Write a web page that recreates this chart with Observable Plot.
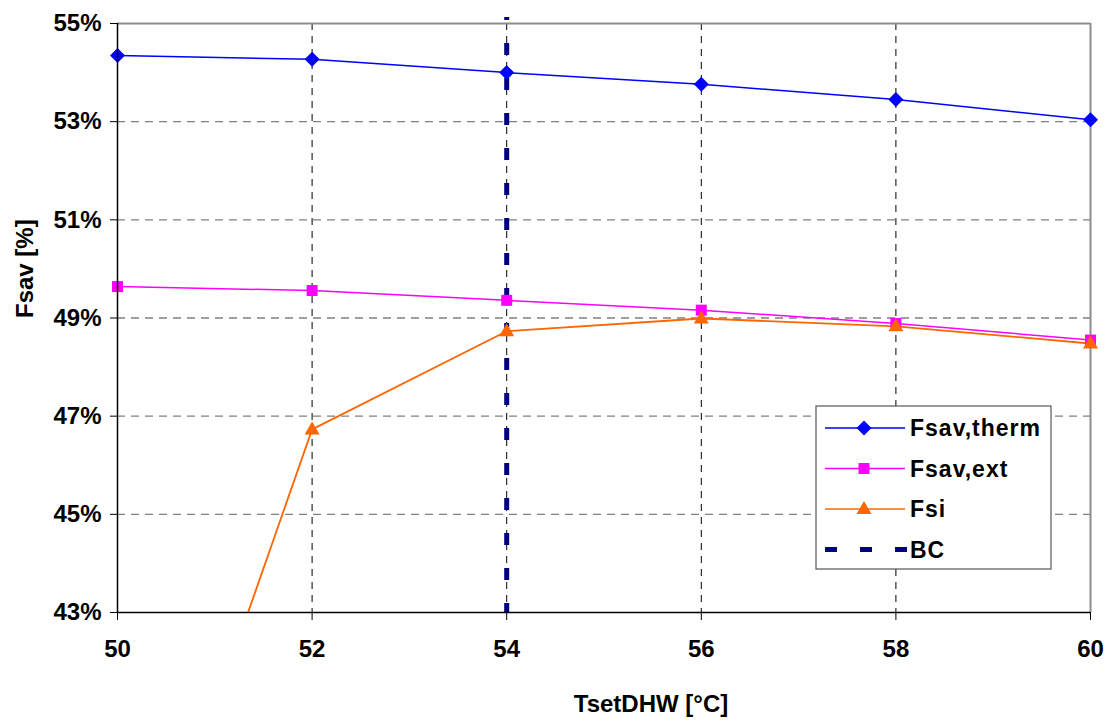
<!DOCTYPE html>
<html>
<head>
<meta charset="utf-8">
<script src="https://cdn.jsdelivr.net/npm/d3@7"></script>
<script src="https://cdn.jsdelivr.net/npm/@observablehq/plot@0.6"></script>
<style>
  html, body { margin: 0; padding: 0; background: #fff; }
  #chart { width: 1109px; height: 722px; }
</style>
</head>
<body>
<div id="chart"></div>
<script>
// ---- data ----
const temps = [50, 52, 54, 56, 58, 60];
const fsavTherm = [54.35, 54.27, 54.0, 53.76, 53.45, 53.04];
const fsavExt = [49.64, 49.56, 49.36, 49.16, 48.89, 48.55];
const fsi = [35.4, 46.73, 48.73, 48.99, 48.83, 48.48];
const bcTemp = [54];
const seriesNames = ["Fsav,therm", "Fsav,ext", "Fsi", "BC"];
const xTicks = [50, 52, 54, 56, 58, 60];
const yTicks = [43, 45, 47, 49, 51, 53, 55];

// ---- styles ----
const colors = {"Fsav,therm": "#0000FF", "Fsav,ext": "#FF00FF", "Fsi": "#FF6600", "BC": "#000080"};
const diamondSym = {draw(ctx) { const s = 7.5; ctx.moveTo(0, -s); ctx.lineTo(s, 0); ctx.lineTo(0, s); ctx.lineTo(-s, 0); ctx.closePath(); }};
const squareSym = {draw(ctx) { const s = 5.5; ctx.rect(-s, -s, 2 * s, 2 * s); }};
const triSym = {draw(ctx) { ctx.moveTo(0, -8); ctx.lineTo(7.5, 5); ctx.lineTo(-7.5, 5); ctx.closePath(); }};
const symbols = {"Fsav,therm": diamondSym, "Fsav,ext": squareSym, "Fsi": triSym};

const mk = (vals) => temps.map((t, i) => ({t, v: vals[i]}));
const dTherm = mk(fsavTherm), dExt = mk(fsavExt), dFsi = mk(fsi);

const font = "'Liberation Sans', Arial, sans-serif";

const chart = Plot.plot({
  width: 1109,
  height: 722,
  marginLeft: 117,
  marginRight: 19,
  marginTop: 23,
  marginBottom: 110,
  style: {fontFamily: font, fontWeight: "bold", fontSize: "24px", color: "#000", background: "#fff"},
  x: {domain: [50, 60], label: null},
  y: {domain: [43, 55], label: null},
  marks: [
    // grid
    Plot.ruleY(yTicks.filter(v => v > 43 && v < 55), {stroke: "#808080", strokeWidth: 1.3, strokeDasharray: "8,6"}),
    Plot.ruleX(xTicks.filter(v => v > 50 && v < 60), {stroke: "#000", strokeWidth: 1, strokeDasharray: "7,6"}),
    Plot.ruleY([55], {stroke: "#8c8c8c", strokeWidth: 2}),
    Plot.ruleX([60], {stroke: "#8c8c8c", strokeWidth: 2}),
    // BC line
    Plot.ruleX(bcTemp, {y1: 55.12, y2: 43, stroke: colors.BC, strokeWidth: 5, strokeDasharray: "12,23", strokeDashoffset: 9}),
    // series
    Plot.line(dTherm, {x: "t", y: "v", stroke: colors["Fsav,therm"], strokeWidth: 1.5}),
    Plot.line(dExt, {x: "t", y: "v", stroke: colors["Fsav,ext"], strokeWidth: 1.5}),
    Plot.line(dFsi, {x: "t", y: "v", stroke: colors["Fsi"], strokeWidth: 1.8, clip: true}),
    Plot.dot(dTherm, {x: "t", y: "v", symbol: () => symbols["Fsav,therm"], fill: colors["Fsav,therm"], stroke: "none"}),
    Plot.dot(dExt, {x: "t", y: "v", symbol: () => symbols["Fsav,ext"], fill: colors["Fsav,ext"], stroke: "none"}),
    Plot.dot(dFsi.filter(d => d.v >= 43), {x: "t", y: "v", symbol: () => symbols["Fsi"], fill: colors["Fsi"], stroke: "none"}),
    // axes lines
    Plot.ruleX([50], {stroke: "#000", strokeWidth: 1.5}),
    Plot.ruleY([43], {stroke: "#000", strokeWidth: 1.5}),
    Plot.axisX({ticks: xTicks, tickFormat: d => String(d), tickSize: 8, tickPadding: 19, label: null, fontSize: 24, fontWeight: "bold"}),
    Plot.axisY({ticks: yTicks, tickFormat: d => d + "%", tickSize: 7, tickPadding: 9, label: null, fontSize: 24, fontWeight: "bold"}),
    // axis titles
    Plot.text(["TsetDHW [°C]"], {frameAnchor: "bottom", dx: 47, dy: 99, fontSize: 24, fontWeight: "bold", fill: "#000"}),
    Plot.text(["Fsav [%]"], {frameAnchor: "left", dx: -92, dy: 0, rotate: -90, fontSize: 24, fontWeight: "bold", fill: "#000"})
  ]
});

// legend drawn into the SVG
const svg = d3.select(chart);
const lg = svg.append("g").attr("transform", "translate(816,406)");
lg.append("rect").attr("x", 0).attr("y", 0).attr("width", 235).attr("height", 163)
  .attr("fill", "#fff").attr("stroke", "#555").attr("stroke-width", 1.2);
seriesNames.forEach((name, i) => {
  const yy = 22 + i * 40.5;
  const row = lg.append("g").attr("transform", `translate(0,${yy})`);
  if (name === "BC") {
    row.append("line").attr("x1", 9).attr("x2", 98).attr("y1", 0).attr("y2", 0)
      .attr("stroke", colors[name]).attr("stroke-width", 5).attr("stroke-dasharray", "12,23");
  } else {
    row.append("line").attr("x1", 9).attr("x2", 89).attr("y1", 0).attr("y2", 0)
      .attr("stroke", colors[name]).attr("stroke-width", 1.5);
    row.append("path").attr("transform", "translate(48,0)")
      .attr("d", d3.symbol(symbols[name])()).attr("fill", colors[name]);
  }
  row.append("text").attr("x", 94).attr("y", 0).attr("dy", "0.36em")
    .attr("text-anchor", "start")
    .attr("font-family", font).attr("font-weight", "bold").attr("font-size", 23)
    .attr("letter-spacing", "1px").attr("fill", "#000")
    .text(name);
});

document.getElementById("chart").appendChild(chart);
</script>
</body>
</html>
